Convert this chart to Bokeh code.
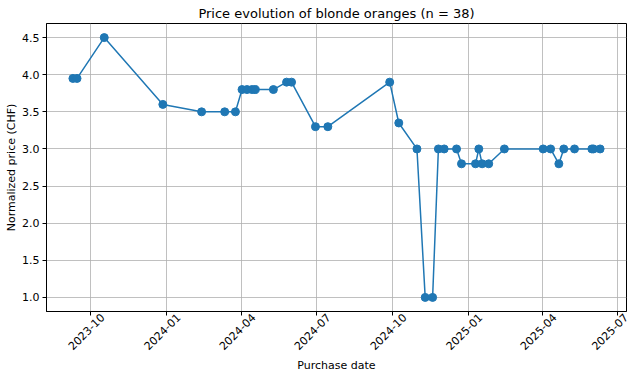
import pandas as pd
from math import pi
from bokeh.plotting import figure
from bokeh.models import FixedTicker, Range1d, ColumnDataSource, DatetimeAxis, Grid
from bokeh.embed import file_html
from bokeh.resources import INLINE

dates = ["2023-09-10", "2023-09-15", "2023-10-18", "2023-12-28", "2024-02-13",
         "2024-03-12", "2024-03-25", "2024-04-02", "2024-04-08", "2024-04-14",
         "2024-04-18", "2024-05-10", "2024-05-26", "2024-06-01", "2024-06-30",
         "2024-07-15", "2024-09-28", "2024-10-09", "2024-10-31", "2024-11-10",
         "2024-11-19", "2024-11-26", "2024-12-03", "2024-12-18", "2024-12-24",
         "2025-01-10", "2025-01-14", "2025-01-18", "2025-01-26", "2025-02-14",
         "2025-04-02", "2025-04-11", "2025-04-21", "2025-04-27", "2025-05-10",
         "2025-05-31", "2025-06-02", "2025-06-10"]
prices = [3.95, 3.95, 4.5, 3.6, 3.5,
          3.5, 3.5, 3.8, 3.8, 3.8,
          3.8, 3.8, 3.9, 3.9, 3.3,
          3.3, 3.9, 3.35, 3.0, 1.0,
          1.0, 3.0, 3.0, 3.0, 2.8,
          2.8, 3.0, 2.8, 2.8, 3.0,
          3.0, 3.0, 2.8, 3.0, 3.0,
          3.0, 3.0, 3.0]
x_tick_labels = ["2023-10", "2024-01", "2024-04", "2024-07", "2024-10",
                 "2025-01", "2025-04", "2025-07"]
y_ticks = [1.0, 1.5, 2.0, 2.5, 3.0, 3.5, 4.0, 4.5]

FONT = "DejaVu Sans"
BLUE = "#1f77b4"
DAY_MS = 86400000.0
X_START = pd.Timestamp("2023-08-09").value / 1e6
X_END = pd.Timestamp("2025-07-12").value / 1e6

x = pd.to_datetime(dates)
src = ColumnDataSource(dict(x=x, y=prices))

tick_ms = [pd.Timestamp(t + "-01").value / 1e6 for t in x_tick_labels]
# rotated labels are centred on the tick (matplotlib style): shift anchor right
label_ms = [min(t + 15 * DAY_MS, X_END - 0.5 * DAY_MS) for t in tick_ms]

p = figure(width=640, height=378, x_axis_type=None,
           output_backend="svg", toolbar_location=None,
           min_border_left=46, min_border_right=14,
           min_border_top=4, min_border_bottom=67)

p.x_range = Range1d(X_START, X_END)
p.y_range = Range1d(0.81, 4.69)

p.add_layout(Grid(dimension=0, ticker=FixedTicker(ticks=tick_ms),
                  grid_line_color="#b0b0b0", grid_line_width=0.8))
p.ygrid.grid_line_color = "#b0b0b0"
p.ygrid.grid_line_width = 0.8

p.line("x", "y", source=src, line_color=BLUE, line_width=1.5)
p.scatter("x", "y", source=src, size=8, fill_color=BLUE, line_color=BLUE)

p.title.text = "Price evolution of blonde oranges (n = 38)"
p.title.align = "center"
p.title.text_font = FONT
p.title.text_font_size = "13px"
p.title.text_font_style = "normal"
p.title.text_color = "black"
p.title.standoff = 6

# axis 1: tick marks only
ax_ticks = DatetimeAxis(ticker=FixedTicker(ticks=tick_ms))
ax_ticks.major_label_overrides = {t: "" for t in tick_ms}
ax_ticks.major_label_text_font_size = "0px"
ax_ticks.major_label_standoff = 0
ax_ticks.major_tick_out = 4
ax_ticks.major_tick_in = 0
ax_ticks.minor_tick_line_color = None
ax_ticks.major_tick_line_color = "black"
ax_ticks.axis_line_color = "black"
p.add_layout(ax_ticks, "below")

# axis 2: rotated labels + axis title
ax_lab = DatetimeAxis(ticker=FixedTicker(ticks=label_ms))
ax_lab.major_label_overrides = {t: lab for t, lab in zip(label_ms, x_tick_labels)}
ax_lab.major_label_orientation = pi / 4
ax_lab.major_label_standoff = 0
ax_lab.major_tick_out = 0
ax_lab.major_tick_line_color = None
ax_lab.minor_tick_line_color = None
ax_lab.axis_line_color = None
ax_lab.axis_label = "Purchase date"
ax_lab.axis_label_standoff = 2
p.add_layout(ax_lab, "below")

p.yaxis.ticker = FixedTicker(ticks=y_ticks)
p.yaxis.major_label_overrides = {v: f"{v:.1f}" for v in y_ticks}
p.yaxis.axis_label = "Normalized price (CHF)"
p.yaxis.major_tick_out = 4
p.yaxis.major_tick_in = 0
p.yaxis.minor_tick_line_color = None
p.yaxis.major_tick_line_color = "black"
p.yaxis.axis_line_color = "black"
p.yaxis.axis_label_standoff = 1
p.yaxis.major_label_standoff = 3

for ax in (ax_lab, p.yaxis[0]):
    ax.axis_label_text_font = FONT
    ax.axis_label_text_font_size = "11px"
    ax.axis_label_text_font_style = "normal"
    ax.axis_label_text_color = "black"
    ax.major_label_text_font = FONT
    ax.major_label_text_font_size = "11px"
    ax.major_label_text_color = "black"

p.outline_line_color = "black"
p.outline_line_width = 1
p.background_fill_color = "white"
p.border_fill_color = "white"

open("out.html", "w").write(file_html(p, INLINE))
